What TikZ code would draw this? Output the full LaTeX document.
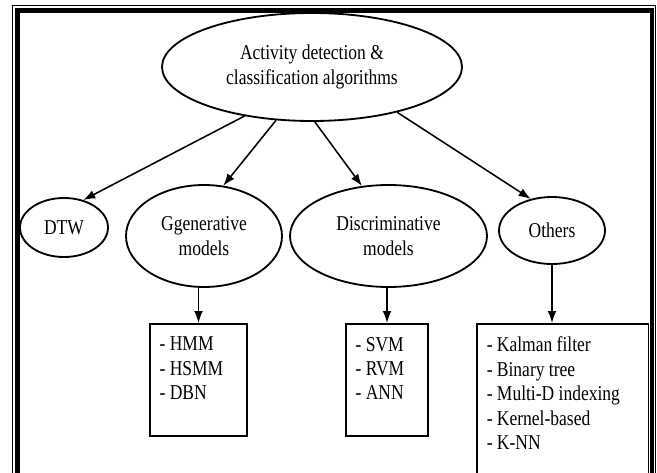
\documentclass[tikz,border=0pt]{standalone}
\usepackage{fontspec}
\setmainfont[FakeStretch=0.83]{Liberation Serif}
\usepackage{tikz}
\usetikzlibrary{arrows.meta}
\usetikzlibrary{shapes.geometric, calc}

\begin{document}
\begin{tikzpicture}[
  font=\fontsize{15}{18}\selectfont,
  oval/.style={draw, ellipse, line width=1.3pt, inner sep=0pt, align=center},
  listbox/.style={draw, rectangle, line width=1.2pt, anchor=north, inner xsep=0.24cm, inner ysep=0.33cm, font=\fontsize{15}{17.4}\selectfont},
  arr/.style={line width=1.1pt, -{Latex[length=3mm, width=2.2mm]}}
]
  \useasboundingbox (0,0) rectangle (16.425,11.8);

  \draw[line width=0.7pt] (0.3125,-0.5) -- (0.3125,11.6625) -- (16.39,11.6625) -- (16.39,-0.5);
  \draw[line width=3.2pt] (0.4375,-0.5) -- (0.4375,11.5375) -- (16.3,11.5375) -- (16.3,-0.5);

  \node[oval, minimum width=7.5cm, minimum height=2.7cm] (algo) at (7.8,10.125) {Activity detection \&\\classification algorithms};

  \node[oval, minimum width=2.2cm, minimum height=1.475cm] (dtw) at (1.6,6.1125) {DTW};
  \node[oval, minimum width=3.9cm, minimum height=2.55cm] (gen) at (5.1,5.9) {Ggenerative\\models};
  \node[oval, minimum width=4.925cm, minimum height=2.55cm] (disc) at (9.7125,5.9) {Discriminative\\models};
  \node[oval, minimum width=2.65cm, minimum height=1.675cm] (others) at (13.8,6.0375) {Others};

  \node[listbox] (genlist) at (4.9625,3.725) {\parbox[t][2.15cm][t]{1.945cm}{- HMM\\- HSMM\\- DBN}};
  \node[listbox] (disclist) at (9.675,3.725) {\parbox[t][2.15cm][t]{1.57cm}{- SVM\\- RVM\\- ANN}};
  \node[listbox] (otherlist) at (14.069,3.725) {\parbox[t][3.125cm][t]{3.8cm}{- Kalman filter\\- Binary tree\\- Multi-D indexing\\- Kernel-based\\- K-NN}};

  \draw[arr] (algo.216) -- (dtw.55);
  \draw[arr] (algo.236) -- (gen.69);
  \draw[arr] (algo.273) -- (disc.118);
  \draw[arr] (algo.332) -- (others.124);

  \draw[arr] (genlist.north |- gen.south) -- (genlist.north);
  \draw[arr] (disclist.north |- disc.south) -- (disclist.north);
  \draw[arr] (others.south) -- (others.south |- otherlist.north);

\end{tikzpicture}
\end{document}
